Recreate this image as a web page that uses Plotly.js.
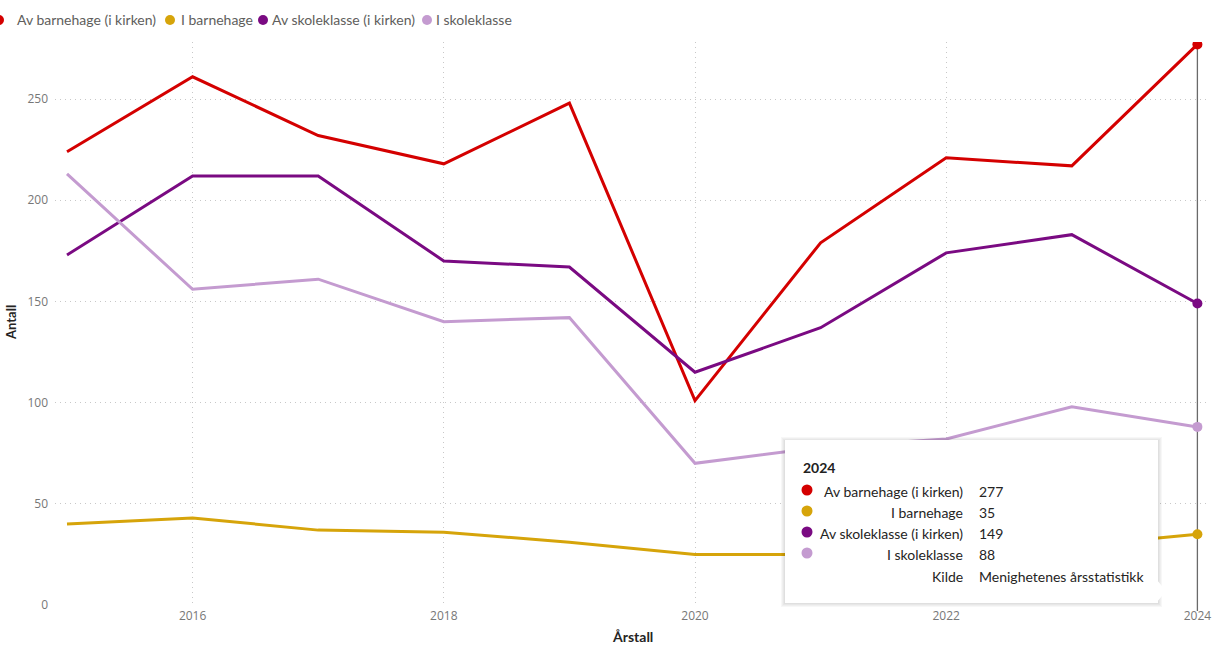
<!DOCTYPE html>
<html>
<head>
<meta charset="utf-8">
<script src="https://cdn.plot.ly/plotly-3.0.1.min.js"></script>
<style>html,body{margin:0;padding:0;background:#fff;}#chart{width:1217px;height:645px;}</style>
</head>
<body>
<div id="chart"></div>
<script>
// ---- data ----
const years = [2015, 2016, 2017, 2018, 2019, 2020, 2021, 2022, 2023, 2024];
const avBarnehageKirken = [224, 261, 232, 218, 248, 101, 179, 221, 217, 277];
const iBarnehage = [40, 43, 37, 36, 31, 25, 25, 28, 29, 35];
const avSkoleklasseKirken = [173, 212, 212, 170, 167, 115, 137, 174, 183, 149];
const iSkoleklasse = [213, 156, 161, 140, 142, 70, 78, 82, 98, 88];
const seriesNames = ["Av barnehage (i kirken)", "I barnehage", "Av skoleklasse (i kirken)", "I skoleklasse"];
const xTickVals = [2016, 2018, 2020, 2022, 2024];
const yTickVals = [0, 50, 100, 150, 200, 250];
const sourceLabel = "Kilde";
const sourceText = "Menighetenes årsstatistikk";
const xTitle = "Årstall";
const yTitle = "Antall";

// ---- styling ----
const colors = ["#D40000", "#D6A40A", "#7A0A82", "#C49BD0"];
const W = 1217, H = 645;
const M = {l: 55, r: 10, t: 42, b: 40};
const PW = W - M.l - M.r, PH = H - M.t - M.b;
const px = v => (v - M.l) / PW;
const py = v => (H - M.b - v) / PH;
const FONT = "Lato, Segoe UI, sans-serif";
const TICKFONT = "Segoe UI, Open Sans, sans-serif";
const Y_MAX = 278.2;

const allSeries = [avBarnehageKirken, iBarnehage, avSkoleklasseKirken, iSkoleklasse];
const last = years.length - 1;
const sizes = years.map((y, i) => i === last ? 10 : 0);

// hover line at the last year (drawn first, under the series)
const traces = [{
  x: [years[last], years[last]], y: [0, Y_MAX], type: "scatter", mode: "lines",
  line: {color: "#6a6a6a", width: 1.3}, hoverinfo: "skip", showlegend: false
}];
allSeries.forEach((s, k) => traces.push({
  x: years, y: s, name: seriesNames[k], type: "scatter", mode: "lines+markers",
  line: {color: colors[k], width: 3},
  marker: {color: colors[k], size: sizes, opacity: 1, line: {width: 0}},
  hoverinfo: "skip", showlegend: false
}));

const shapes = [];
const annotations = [];

// small extension of the hover line below the plot area
shapes.push({type: "line", xref: "x", yref: "paper", x0: years[last], x1: years[last], y0: py(611), y1: 0,
  line: {color: "#6a6a6a", width: 1.3}, layer: "below"});

// legend
const legendDots = [-1, 170, 263, 427];
const legendText = [15, 179, 270, 434];
for (let k = 0; k < 4; k++) {
  shapes.push({type: "circle", xref: "paper", yref: "paper", xsizemode: "pixel", ysizemode: "pixel",
    xanchor: px(legendDots[k]), yanchor: py(20), x0: -5, x1: 5, y0: -5, y1: 5,
    fillcolor: colors[k], line: {width: 0}});
  annotations.push({xref: "paper", yref: "paper", x: px(legendText[k]), y: py(20), xanchor: "left", yanchor: "middle",
    text: seriesNames[k], showarrow: false, font: {family: FONT, size: 14, color: "#605E5C"}});
}

// tooltip box (shadow + box + pointer)
const tb = {x0: 785, x1: 1158, y0: 440, y1: 603};
for (let i = 4; i >= 1; i--) {
  shapes.push({type: "rect", xref: "paper", yref: "paper", x0: px(tb.x0 - i), x1: px(tb.x1 + i), y0: py(tb.y1 + i), y1: py(tb.y0 - i + 1),
    fillcolor: "rgba(0,0,0,0.03)", line: {width: 0}, layer: "above"});
}
shapes.push({type: "rect", xref: "paper", yref: "paper", x0: px(tb.x0), x1: px(tb.x1), y0: py(tb.y1), y1: py(tb.y0),
  fillcolor: "#ffffff", line: {width: 0}, layer: "above"});
shapes.push({type: "path", xref: "paper", yref: "paper", layer: "above",
  path: `M ${px(1157)},${py(580)} L ${px(1166)},${py(591)} L ${px(1157)},${py(602)} Z`,
  fillcolor: "#ffffff", line: {width: 0}});

annotations.push({xref: "paper", yref: "paper", x: px(801), y: py(467), xanchor: "left", yanchor: "middle",
  text: "<b>" + years[last] + "</b>", showarrow: false, font: {family: FONT, size: 14, color: "#222"}});
const rowY = [491, 512, 533, 554];
for (let k = 0; k < 4; k++) {
  shapes.push({type: "circle", xref: "paper", yref: "paper", xsizemode: "pixel", ysizemode: "pixel", layer: "above",
    xanchor: px(807), yanchor: py(rowY[k] - 1), x0: -5.5, x1: 5.5, y0: -5.5, y1: 5.5,
    fillcolor: colors[k], line: {width: 0}});
  annotations.push({xref: "paper", yref: "paper", x: px(965), y: py(rowY[k]), xanchor: "right", yanchor: "middle",
    text: seriesNames[k], showarrow: false, font: {family: FONT, size: 14, color: "#252423"}});
  annotations.push({xref: "paper", yref: "paper", x: px(977), y: py(rowY[k]), xanchor: "left", yanchor: "middle",
    text: String(allSeries[k][last]), showarrow: false, font: {family: FONT, size: 14, color: "#252423"}});
}
annotations.push({xref: "paper", yref: "paper", x: px(965), y: py(576), xanchor: "right", yanchor: "middle",
  text: sourceLabel, showarrow: false, font: {family: FONT, size: 14, color: "#252423"}});
annotations.push({xref: "paper", yref: "paper", x: px(977), y: py(576), xanchor: "left", yanchor: "middle",
  text: sourceText, showarrow: false, font: {family: FONT, size: 14, color: "#252423"}});

// axis titles
annotations.push({xref: "paper", yref: "paper", x: px(632), y: py(636), xanchor: "center", yanchor: "middle",
  text: xTitle, showarrow: false, font: {family: FONT, size: 14, color: "#252423", weight: 700}});
annotations.push({xref: "paper", yref: "paper", x: px(11), y: py(323), xanchor: "center", yanchor: "middle",
  textangle: -90, text: yTitle, showarrow: false, font: {family: FONT, size: 13, color: "#252423", weight: 700}});

const gridStyle = {showgrid: true, gridcolor: "#c8c8c8", griddash: "1px,4px", gridwidth: 1};

const layout = {
  width: W, height: H,
  margin: M,
  paper_bgcolor: "#ffffff", plot_bgcolor: "#ffffff",
  showlegend: false,
  font: {family: FONT},
  xaxis: Object.assign({
    range: [2015 - 12 / 125.6, 2015 - 12 / 125.6 + PW / 125.6],
    tickvals: xTickVals, ticktext: xTickVals.map(String),
    zeroline: false, showline: false, ticks: "",
    tickfont: {family: TICKFONT, size: 12, color: "#777"}, ticklabelstandoff: 2,
    fixedrange: true
  }, gridStyle),
  yaxis: Object.assign({
    range: [0, Y_MAX],
    tickvals: yTickVals, ticktext: yTickVals.map(String),
    zeroline: false, showline: false, ticks: "",
    tickfont: {family: TICKFONT, size: 12, color: "#777"}, ticklabelstandoff: 6,
    fixedrange: true
  }, gridStyle),
  shapes: shapes,
  annotations: annotations
};

Plotly.newPlot("chart", traces, layout, {displayModeBar: false, staticPlot: true});
</script>
</body>
</html>
